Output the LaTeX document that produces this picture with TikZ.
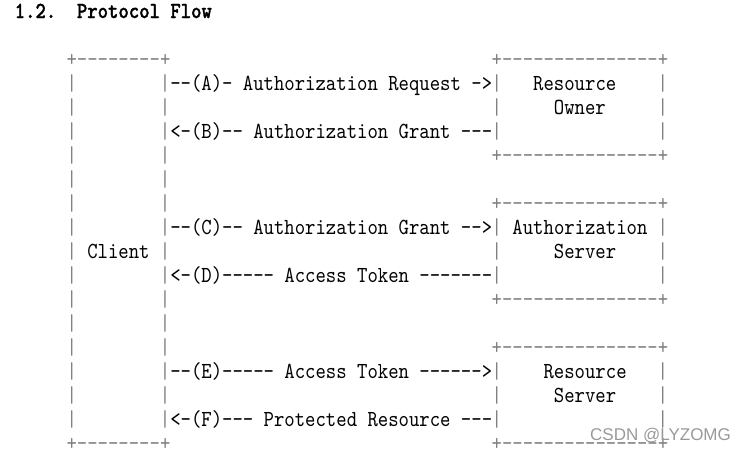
\documentclass[tikz,border=0pt]{standalone}
\usepackage{fontspec}
\newfontfamily\flowfont[Ligatures=TeXOff,FakeStretch=0.86]{lmmono10-regular.otf}
\newfontfamily\headfont[Ligatures=TeXOff,FakeStretch=0.86,FakeBold=1.2]{lmmonolt10-bold.otf}
\newfontfamily\markfont{Liberation Sans}

\begin{document}
\begin{tikzpicture}[x=10.37pt,y=-24pt,
  every node/.style={anchor=base west,inner sep=0pt,font=\flowfont\fontsize{23}{24}\selectfont},
  head/.style={font=\headfont\fontsize{23}{24}\selectfont},
  boxline/.style={text=black!50},
  msg/.style={text=black}]
  \useasboundingbox (-14.5pt,66pt) rectangle (735.5pt,-384pt);

  % heading
  \node[head] (num) at (0,-2) {1.2.};
  \node[head] (title) at (6,-2) {Protocol Flow};

  % client box
  \node[boxline] (client-top) at (5,0) {+--------+};
  \node[boxline] (client-bot) at (5,16) {+--------+};
  \foreach \r in {1,...,15} {
    \node[boxline] (client-l\r) at (5,\r) {|};
    \node[boxline] (client-r\r) at (14,\r) {|};
  }
  \node (client) at (7,8) {Client};

  % server side boxes
  \foreach \name/\t in {owner/0,authz/6,rs/12} {
    \node[boxline] (\name-top) at (46,\t) {+---------------+};
    \node[boxline] (\name-bot) at (46,\t+4) {+---------------+};
    \foreach \r in {1,2,3} {
      \node[boxline] (\name-l\r) at (46,\t+\r) {|};
      \node[boxline] (\name-r\r) at (62,\t+\r) {|};
    }
  }
  \node (owner-1) at (50,1) {Resource};
  \node (owner-2) at (52,2) {Owner};
  \node (authz-1) at (48,7) {Authorization};
  \node (authz-2) at (52,8) {Server};
  \node (rs-1) at (51,13) {Resource};
  \node (rs-2) at (52,14) {Server};

  % messages
  \node[msg] (a) at (15,1) {--(A)- Authorization Request ->};
  \node[msg] (b) at (15,3) {<-(B)-- Authorization Grant ---};
  \node[msg] (c) at (15,7) {--(C)-- Authorization Grant -->};
  \node[msg] (d) at (15,9) {<-(D)----- Access Token -------};
  \node[msg] (e) at (15,13) {--(E)----- Access Token ------>};
  \node[msg] (f) at (15,15) {<-(F)--- Protected Resource ---};

  \node[font=\markfont\fontsize{17}{17}\selectfont,text=black!40] (mark) at (575.5pt,-374pt) {CSDN @LYZOMG};
\end{tikzpicture}
\end{document}
